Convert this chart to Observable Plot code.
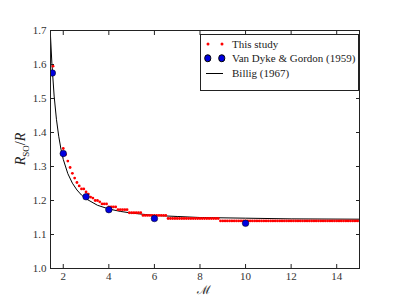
<!DOCTYPE html>
<html>
<head>
<meta charset="utf-8">
<script src="https://cdn.jsdelivr.net/npm/d3@7"></script>
<script src="https://cdn.jsdelivr.net/npm/@observablehq/plot@0.6"></script>
<style>
  body { margin: 0; background: #fff; }
  #wrap { position: relative; width: 399px; height: 299px; font-family: "Liberation Serif", serif; color: #222; }
  #chart svg, #chart svg text { font-family: "Liberation Serif", serif !important; }
  #ylab { position: absolute; left: 22px; top: 149px; transform: translate(-50%, -50%) rotate(-90deg); font-size: 14px; white-space: nowrap; }
  #ylab sub { font-size: 9px; font-style: normal; }
  #xlab { position: absolute; left: 204px; top: 290px; transform: translate(-50%, -50%); font-family: "DejaVu Serif", serif; font-size: 12px; line-height: 13px; height: 13px; }
  #legend { position: absolute; left: 200px; top: 34px; width: 157px; height: 55px; border: 1px solid #222; background: #fff; font-size: 11px; }
  .li { position: absolute; left: 31px; white-space: nowrap; transform: translateY(-50%); }
  .mk { position: absolute; border-radius: 50%; transform: translate(-50%, -50%); }
</style>
</head>
<body>
<div id="wrap">
  <div id="chart"></div>
  <div id="ylab"><i>R</i><sub>SO</sub>/<i>R</i></div>
  <div id="xlab">ℳ</div>
  <div id="legend"></div>
</div>
<script>
// "This study"
const machStudy = [
  1.55,
  2.0,2.1,2.2,2.3,2.4,2.5,2.6,2.7,2.8,2.9,
  3.0,3.1,3.2,3.3,3.4,3.5,3.6,3.7,3.8,3.9,
  4.0,4.1,4.2,4.3,4.4,4.5,4.6,4.7,4.8,4.9,
  5.0,5.1,5.2,5.3,5.4,5.5,5.6,5.7,5.8,5.9,
  6.0,6.1,6.2,6.3,6.4,6.5,6.6,6.7,6.8,6.9,
  7.0,7.1,7.2,7.3,7.4,7.5,7.6,7.7,7.8,7.9,
  8.0,8.1,8.2,8.3,8.4,8.5,8.6,8.7,8.8,8.9,
  9.0,9.1,9.2,9.3,9.4,9.5,9.6,9.7,9.8,9.9,
  10.0,10.1,10.2,10.3,10.4,10.5,10.6,10.7,10.8,10.9,
  11.0,11.1,11.2,11.3,11.4,11.5,11.6,11.7,11.8,11.9,
  12.0,12.1,12.2,12.3,12.4,12.5,12.6,12.7,12.8,12.9,
  13.0,13.1,13.2,13.3,13.4,13.5,13.6,13.7,13.8,13.9,
  14.0,14.1,14.2,14.3,14.4,14.5,14.6,14.7,14.8,14.9,
  15.0
];
const ratioStudy = [
  1.595,
  1.353,1.335,1.316,1.297,1.280,1.266,1.253,1.243,1.234,1.234,
  1.225,1.219,1.210,1.207,1.200,1.200,1.196,1.190,1.190,1.190,
  1.181,1.181,1.181,1.181,1.173,1.173,1.173,1.173,1.173,1.164,
  1.164,1.164,1.164,1.164,1.164,1.156,1.156,1.156,1.156,1.156,
  1.156,1.156,1.156,1.156,1.156,1.156,1.147,1.147,1.147,1.147,
  1.147,1.147,1.147,1.147,1.147,1.147,1.147,1.147,1.147,1.147,
  1.147,1.147,1.147,1.147,1.147,1.147,1.147,1.147,1.147,1.140,
  1.140,1.140,1.140,1.140,1.140,1.140,1.140,1.140,1.140,1.140,
  1.140,1.140,1.140,1.140,1.140,1.140,1.140,1.140,1.140,1.140,
  1.140,1.140,1.140,1.140,1.140,1.140,1.140,1.140,1.140,1.140,
  1.140,1.140,1.140,1.140,1.140,1.140,1.140,1.140,1.140,1.140,
  1.140,1.140,1.140,1.140,1.140,1.140,1.140,1.140,1.140,1.140,
  1.140,1.140,1.140,1.140,1.140,1.140,1.140,1.140,1.140,1.140,
  1.140
];

// Van Dyke & Gordon (1959)
const machVDG = [1.52, 2, 3, 4, 6, 10];
const ratioVDG = [1.575, 1.338, 1.211, 1.173, 1.147, 1.133];

// Billig (1967)
const machBillig = [1.43, 1.5, 1.6, 1.7, 1.8, 1.9, 2.0, 2.2, 2.4, 2.6, 2.8, 3.0, 3.5, 4.0, 4.5, 5, 6, 7, 8, 10, 12, 15];
const ratioBillig = [1.697, 1.604, 1.507, 1.439, 1.389, 1.351, 1.321, 1.279, 1.251, 1.231, 1.216, 1.205, 1.186, 1.175, 1.168, 1.163, 1.156, 1.153, 1.150, 1.148, 1.146, 1.145];

const xTicks = [2, 4, 6, 8, 10, 12, 14];
const yTicks = [1.0, 1.1, 1.2, 1.3, 1.4, 1.5, 1.6, 1.7];

const legendLabels = ["This study", "Van Dyke & Gordon (1959)", "Billig (1967)"];

const study = machStudy.map((m, i) => ({m, r: ratioStudy[i]}));
const vdg = machVDG.map((m, i) => ({m, r: ratioVDG[i]}));
const billig = machBillig.map((m, i) => ({m, r: ratioBillig[i]}));

const axisColor = "#222";
const chart = Plot.plot({
  width: 399,
  height: 299,
  marginLeft: 50,
  marginRight: 40,
  marginTop: 30,
  marginBottom: 31,
  style: {fontFamily: "'Liberation Serif', serif", fontSize: "11px", color: "#333", background: "#fff"},
  x: {domain: [1.44, 15], ticks: xTicks, label: null},
  y: {domain: [1.0, 1.7], ticks: yTicks, label: null},
  marks: [
    Plot.line(billig, {x: "m", y: "r", stroke: "#000", strokeWidth: 1, clip: true}),
    Plot.dot(study, {x: "m", y: "r", r: 1.4, fill: "#ff0000", stroke: "none", clip: true}),
    Plot.dot(vdg, {x: "m", y: "r", r: 3.3, fill: "#0000e0", stroke: "#000", strokeWidth: 0.5, clip: true}),
    Plot.frame({stroke: axisColor, strokeWidth: 1}),
    Plot.axisX({anchor: "bottom", ticks: xTicks, tickSize: 4, dy: -4, text: null, stroke: axisColor, label: null}),
    Plot.axisX({anchor: "top", ticks: xTicks, tickSize: 4, dy: 4, text: null, stroke: axisColor, label: null}),
    Plot.axisX({anchor: "bottom", ticks: xTicks, tickSize: 0, tickPadding: 4, label: null, fill: "#333"}),
    Plot.axisY({anchor: "left", ticks: yTicks, tickSize: 4, dx: 4, text: null, stroke: axisColor, label: null}),
    Plot.axisY({anchor: "right", ticks: yTicks, tickSize: 4, dx: -4, text: null, stroke: axisColor, label: null}),
    Plot.axisY({anchor: "left", ticks: yTicks, tickSize: 0, tickPadding: 4, tickFormat: d3.format(".1f"), label: null, fill: "#333"})
  ]
});
document.getElementById("chart").appendChild(chart);

// legend
const lg = document.getElementById("legend");
const rowsY = [9, 23, 37.5];
legendLabels.forEach((t, i) => {
  const s = document.createElement("div");
  s.className = "li";
  s.style.top = rowsY[i] + "px";
  s.textContent = t;
  lg.appendChild(s);
});
[6.5, 20.5].forEach(x => {
  const a = document.createElement("div");
  a.className = "mk";
  a.style.cssText += `left:${x}px;top:${rowsY[0]}px;width:3px;height:3px;background:#ff0000;`;
  lg.appendChild(a);
  const b = document.createElement("div");
  b.className = "mk";
  b.style.cssText += `left:${x}px;top:${rowsY[1]}px;width:5.5px;height:5.5px;background:#0000e0;border:0.5px solid #000;`;
  lg.appendChild(b);
});
const ln = document.createElement("div");
ln.style.cssText = `position:absolute;left:5px;top:${rowsY[2]}px;width:17px;height:1px;background:#000;`;
lg.appendChild(ln);
</script>
</body>
</html>
